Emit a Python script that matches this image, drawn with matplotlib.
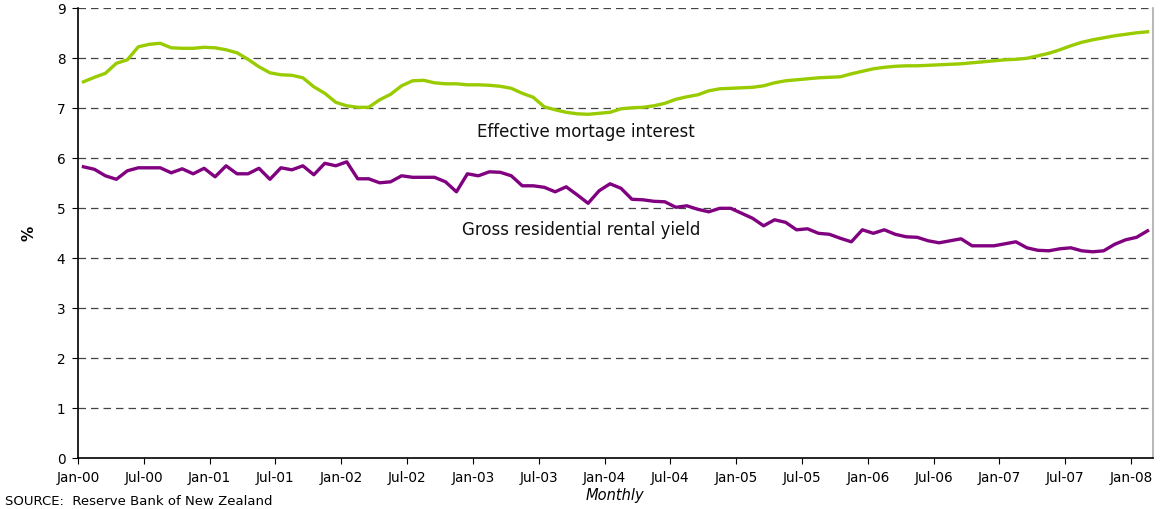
import matplotlib.pyplot as plt
import numpy as np

plt.rcParams['font.family'] = ['DejaVu Sans']

# monthly series, Jan-00 .. Feb-08
mortgage = [7.53, 7.62, 7.70, 7.90, 7.97, 8.23, 8.28, 8.30, 8.21, 8.20,
            8.20, 8.22, 8.21, 8.17, 8.11, 7.98, 7.83, 7.71, 7.67, 7.66,
            7.61, 7.43, 7.30, 7.12, 7.05, 7.02, 7.02, 7.17, 7.28, 7.45,
            7.55, 7.56, 7.51, 7.49, 7.49, 7.47, 7.47, 7.46, 7.44, 7.40,
            7.30, 7.22, 7.03, 6.97, 6.92, 6.89, 6.88, 6.90, 6.92, 6.99,
            7.01, 7.02, 7.05, 7.10, 7.18, 7.23, 7.27, 7.35, 7.39, 7.40,
            7.41, 7.42, 7.45, 7.51, 7.55, 7.57, 7.59, 7.61, 7.62, 7.63,
            7.69, 7.74, 7.79, 7.82, 7.84, 7.85, 7.85, 7.86, 7.87, 7.88,
            7.89, 7.91, 7.93, 7.95, 7.97, 7.98, 8.00, 8.05, 8.10, 8.17,
            8.25, 8.32, 8.37, 8.41, 8.45, 8.48, 8.51, 8.53]

rental = [5.83, 5.78, 5.65, 5.58, 5.75, 5.81, 5.81, 5.81, 5.71, 5.79,
          5.69, 5.80, 5.63, 5.85, 5.69, 5.69, 5.80, 5.58, 5.81, 5.77,
          5.85, 5.67, 5.90, 5.85, 5.93, 5.59, 5.59, 5.51, 5.53, 5.65,
          5.62, 5.62, 5.62, 5.53, 5.33, 5.69, 5.65, 5.73, 5.72, 5.65,
          5.45, 5.45, 5.42, 5.33, 5.43, 5.27, 5.10, 5.35, 5.49, 5.40,
          5.18, 5.17, 5.14, 5.13, 5.02, 5.05, 4.98, 4.93, 5.00, 5.00,
          4.90, 4.80, 4.65, 4.77, 4.72, 4.57, 4.59, 4.50, 4.48, 4.40,
          4.33, 4.57, 4.50, 4.57, 4.48, 4.43, 4.42, 4.35, 4.31, 4.35,
          4.39, 4.25, 4.25, 4.25, 4.29, 4.33, 4.21, 4.16, 4.15, 4.19,
          4.21, 4.15, 4.13, 4.15, 4.28, 4.37, 4.42, 4.55]

tick_labels = ['Jan-00', 'Jul-00', 'Jan-01', 'Jul-01', 'Jan-02', 'Jul-02',
               'Jan-03', 'Jul-03', 'Jan-04', 'Jul-04', 'Jan-05', 'Jul-05',
               'Jan-06', 'Jul-06', 'Jan-07', 'Jul-07', 'Jan-08']

months = np.arange(len(mortgage))

fig = plt.figure(figsize=(11.62, 5.09), dpi=100)
ax = fig.add_axes([0.0671, 0.0996, 0.9252, 0.8841])

ax.plot(months, mortgage, color='#99CC00', lw=2.4, solid_joinstyle='round')
ax.plot(months, rental, color='#800080', lw=2.4, solid_joinstyle='round')

ax.set_xlim(-0.5, len(months) - 0.5)
ax.set_ylim(0, 9)
ax.set_yticks(range(10))
ax.set_xticks(np.arange(len(tick_labels)) * 6 - 0.5)
ax.set_xticklabels(tick_labels)
ax.tick_params(labelsize=9.8, length=4, width=0.8, color='black')
ax.tick_params(axis='x', pad=5)
ax.tick_params(axis='y', pad=5)

for v in range(1, 10):
    ax.axhline(v, color='#444444', lw=0.9, dashes=(6, 4), zorder=0)

ax.spines['top'].set_visible(False)
ax.spines['right'].set_color('#aaaaaa')
ax.spines['right'].set_linewidth(1.2)
ax.spines['left'].set_linewidth(1.2)
ax.spines['bottom'].set_linewidth(1.2)

# series names sit inside the plot, under each line
ax.text(45.8, 6.52, 'Effective mortage interest', ha='center', va='center',
        fontsize=12, color='#111111')
ax.text(45.4, 4.57, 'Gross residential rental yield', ha='center',
        va='center', fontsize=12, color='#111111')

fig.text(0.025, 0.542, '%', rotation=90, ha='center', va='center',
         fontsize=11, fontweight='bold')
fig.text(0.529, 0.027, 'Monthly', ha='center', va='center', fontsize=10.5,
         style='italic')
fig.text(0.004, 0.001, 'SOURCE:  Reserve Bank of New Zealand', ha='left',
         va='bottom', fontsize=9.5)

fig.savefig('out.png', dpi=100)
